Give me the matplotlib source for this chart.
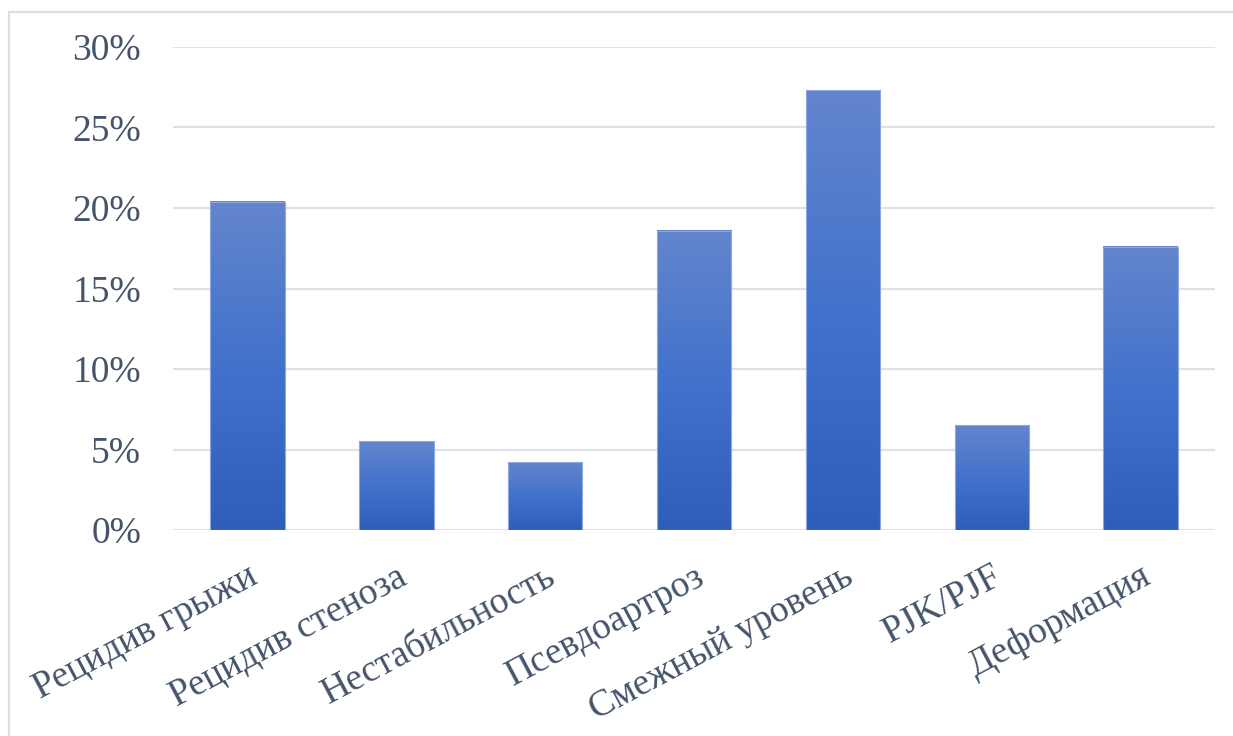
import matplotlib
matplotlib.use("Agg")
import matplotlib.pyplot as plt
import numpy as np
from matplotlib.colors import LinearSegmentedColormap
from matplotlib.patches import Rectangle
from matplotlib.ticker import PercentFormatter

categories = ["Рецидив грыжи", "Рецидив стеноза", "Нестабильность", "Псевдоартроз",
              "Смежный уровень", "PJK/PJF", "Деформация"]
values = [20.4, 5.5, 4.2, 18.6, 27.3, 6.5, 17.6]
yticks = [0, 5, 10, 15, 20, 25, 30]

text_color = "#44546A"
grid_color = "#DDE2EA"
plt.rcParams["font.family"] = ["Liberation Serif", "DejaVu Serif"]

fig = plt.figure(figsize=(12.33, 7.36), dpi=100)
ax = fig.add_axes([173 / 1233, 1 - 530 / 736, (1215 - 173) / 1233, (530 - 47) / 736])

x = np.arange(len(categories))
bars = ax.bar(x, values, width=0.5, color="none", edgecolor="#8CA8E0", linewidth=0.8, zorder=3)

# vertical gradient fill inside each bar: light at the top, dark at the bottom
cmap = LinearSegmentedColormap.from_list(
    "bar_grad", [(0.0, "#2E5EB8"), (0.5, "#4272CB"), (1.0, "#6385CD")])
grad = np.linspace(0, 1, 256).reshape(-1, 1)
for rect in bars:
    x0, w, h = rect.get_x(), rect.get_width(), rect.get_height()
    ax.imshow(grad, cmap=cmap, origin="lower", aspect="auto",
              extent=(x0, x0 + w, 0, h), zorder=2, interpolation="bilinear")

ax.set_xlim(-0.5, len(categories) - 0.5)
ax.set_ylim(0, 30)
ax.set_yticks(yticks)
ax.yaxis.set_major_formatter(PercentFormatter(decimals=0))
ax.grid(axis="y", color=grid_color, linewidth=1.6, zorder=0)
ax.set_axisbelow(True)
for s in ax.spines.values():
    s.set_visible(False)
ax.tick_params(axis="both", length=0, labelsize=27, labelcolor=text_color)
ax.tick_params(axis="y", pad=23)
ax.tick_params(axis="x", pad=21)

ax.set_xticks(x)
ax.set_xticklabels(categories, rotation=28, ha="right", va="top", rotation_mode="anchor")

# light frame around the chart area
fig.patches.append(Rectangle((9 / 1233, -0.1), 1.2, 1 - 12 / 736 + 0.1,
                             transform=fig.transFigure, fill=False,
                             edgecolor="#D9DEE8", linewidth=1.6, clip_on=False))

fig.savefig("out.png", dpi=100, facecolor="white")
